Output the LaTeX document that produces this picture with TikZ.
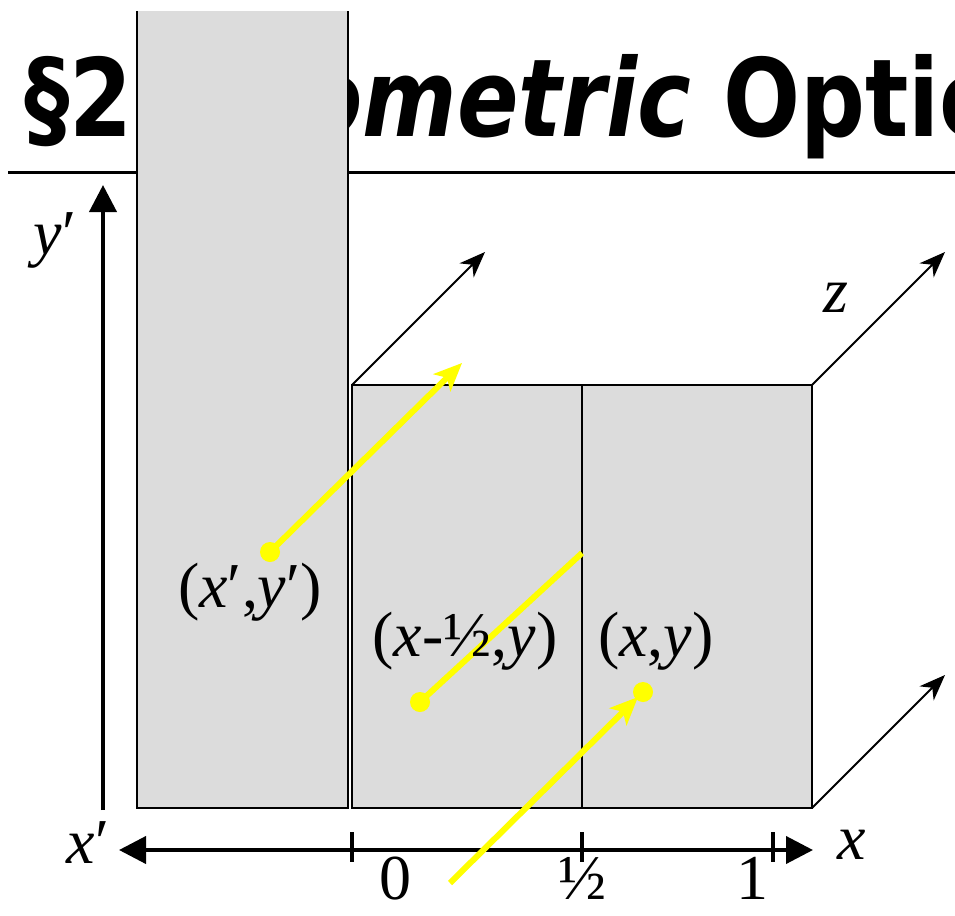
\documentclass[tikz,border=0pt]{standalone}
\usepackage{fontspec}
\setmainfont{Liberation Serif}
\newfontfamily\titlefont[FakeStretch=0.84]{DejaVu Sans}
\usetikzlibrary{arrows.meta}
\definecolor{boxgray}{HTML}{DCDCDC}
\definecolor{rayyellow}{HTML}{FFFF00}
\newcommand\mylbl{\fontsize{64}{70}\selectfont}
\begin{document}
\begin{tikzpicture}[x=1pt,y=-1pt,
  boxfill/.style={fill=boxgray},
  boxline/.style={draw=black, line width=2pt},
  zarrow/.style={line width=1.8pt, -{Stealth[length=26pt,width=20pt,inset=8pt]}},
  axisline/.style={line width=4pt},
  axishead/.style={-{Triangle[length=27pt,width=27pt]}},
  ray/.style={draw=rayyellow, line width=6pt},
  rayhead/.style={-{Stealth[length=28pt,width=24pt,inset=7pt]}},
  raydot/.style={fill=rayyellow},
  lbl/.style={inner sep=0pt, font=\mylbl}]
\useasboundingbox (0,0) rectangle (955,915);
\clip (0,0) rectangle (955,915);
% title and rule
\draw[line width=3pt] (8,172) coordinate (r1) -- (960,172) coordinate (r2);
\node[anchor=base west, inner sep=0pt] (title) at (24,136)
  {\titlefont\bfseries\fontsize{108}{110}\selectfont §2 \textit{Geometric} Optics};
% left tall box
\coordinate (A1) at (137,11);
\coordinate (A2) at (348,808);
\fill[boxfill] (A1) rectangle (A2);
\draw[boxline] (137,11) -- (137,808) -- (348,808) -- (348,11);
% right boxes
\coordinate (B1) at (352,385);
\coordinate (B2) at (582,808);
\coordinate (C1) at (582,385);
\coordinate (C2) at (812,808);
\coordinate (C3) at (812,385);
\filldraw[boxfill, boxline] (B1) rectangle (B2);
\filldraw[boxfill, boxline] (C1) rectangle (C2);
% z arrows
\coordinate (Z1) at (485,252);
\coordinate (Z2) at (945,252);
\coordinate (Z3) at (945,675);
\draw[zarrow] (B1) -- (Z1);
\draw[zarrow] (C3) -- (Z2);
\draw[zarrow] (C2) -- (Z3);
\node[lbl] (zl) at (836,298) {\textit{z}};
% axes
\coordinate (O) at (352,850);
\coordinate (Xe) at (813,850);
\coordinate (Xpe) at (119,850);
\coordinate (Yb) at (103,810);
\coordinate (Ye) at (103,185);
\draw[axisline, axishead] (Yb) -- (Ye);
\draw[axisline, axishead] (O) -- (Xe);
\draw[axisline, axishead] (O) -- (Xpe);
\draw[axisline] (352,832) -- (352,862);
\draw[axisline] (582,832) -- (582,862);
\draw[axisline] (773,832) -- (773,862);
\node[lbl] (yl) at (55,240) {\textit{y}′};
\node[lbl] (xpl) at (88,843) {\textit{x}′};
\node[lbl] (xl) at (852,845) {\textit{x}};
\node[lbl, anchor=base] (t0) at (395,899) {0};
\node[lbl, anchor=base] (th) at (582,899) {½};
\node[lbl, anchor=base] (t1) at (752,899) {1};
% yellow rays
\coordinate (P1) at (270,552);
\coordinate (P1e) at (462,363);
\coordinate (P2) at (420,702);
\coordinate (P2e) at (582,553);
\coordinate (P3s) at (450,883);
\coordinate (P3e) at (638,697);
\coordinate (P3) at (643,692);
\draw[ray, rayhead, draw=rayyellow, fill=rayyellow] (P1) -- (P1e);
\fill[raydot] (P1) circle (10);
\draw[ray] (P2) -- (P2e);
\fill[raydot] (P2) circle (10);
\draw[ray, rayhead] (P3s) -- (P3e);
\fill[raydot] (P3) circle (10);
% point labels
\node[lbl] (l1) at (250,592) {(\textit{x}′,\textit{y}′)};
\node[lbl] (l2) at (465,641) {(\textit{x}-½,\textit{y})};
\node[lbl] (l3) at (656,641) {(\textit{x},\textit{y})};
\end{tikzpicture}
\end{document}
